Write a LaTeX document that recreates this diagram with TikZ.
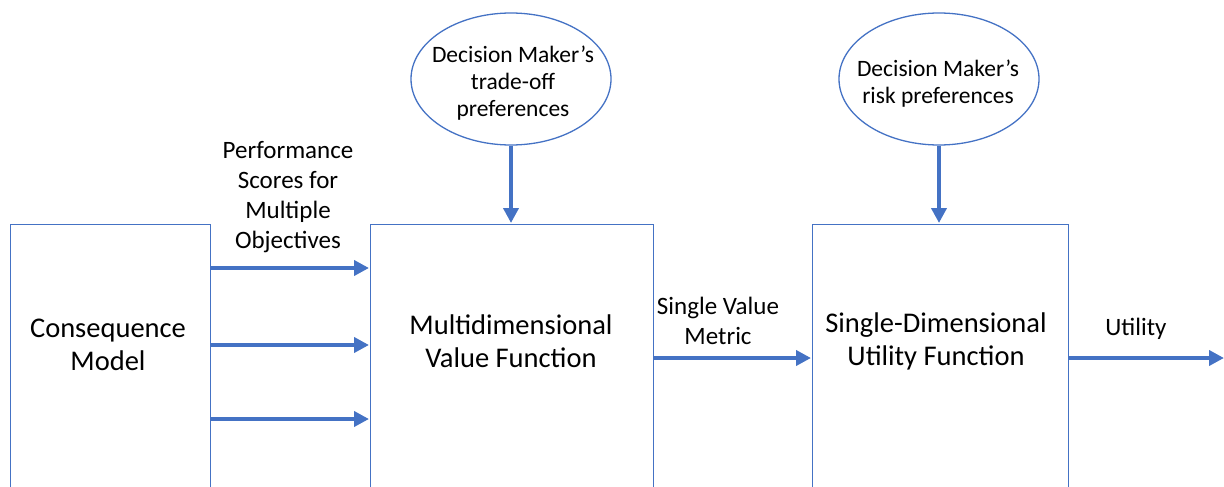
\documentclass[tikz,border=0pt]{standalone}
\usepackage{fontspec}
\setmainfont{Carlito}
\usetikzlibrary{arrows.meta,shapes.geometric}
\definecolor{obl}{HTML}{4472C4}
\tikzset{
  box/.style={draw=obl, line width=1.4pt, anchor=north west, inner sep=0pt},
  ell/.style={draw=obl, line width=1.3pt, ellipse, minimum width=200pt, minimum height=132pt, inner sep=0pt},
  elltext/.style={align=center, font=\fontsize{23.5}{27}\selectfont},
  big/.style={align=center, font=\fontsize{28.5}{33}\selectfont},
  lab/.style={align=center, font=\fontsize{25}{30}\selectfont},
  arr/.style={draw=obl, line width=4pt, -{Triangle[length=15pt,width=15pt]}, shorten >=1pt}
}
\begin{document}
\begin{tikzpicture}[x=1pt,y=-1pt]
\useasboundingbox (0,0) rectangle (1224,487);
\clip (0,0) rectangle (1224,487);
\node[box, minimum width=200pt, minimum height=300pt] (b1) at (10,224) {};
\node[box, minimum width=283pt, minimum height=300pt] (b2) at (370,224) {};
\node[box, minimum width=256pt, minimum height=300pt] (b3) at (812,224) {};
\node[big] (t1) at (108,345) {Consequence\\Model};
\node[big] (t2) at (511,341) {Multidimensional\\Value Function};
\node[big] (t3) at (936,341) {Single-Dimensional\\Utility Function};
\node[ell] (e1) at (511,79) {};
\node[ell] (e2) at (939,79) {};
\node[elltext] (e1t) at (513,83) {Decision Maker’s\\trade-off\\preferences};
\node[elltext] (e2t) at (938,84) {Decision Maker’s\\risk preferences};
\node[lab] (l1) at (288,197) {Performance\\Scores for\\Multiple\\Objectives};
\node[lab] (l2) at (718,321) {Single Value\\Metric};
\node[lab] (l3) at (1136,329) {Utility};
\coordinate (out) at (1224,358);
\draw[arr] (e1.south) -- (e1.south |- b2.north);
\draw[arr] (e2.south) -- (e2.south |- b3.north);
\draw[arr] (b1.north east |- 0,268) -- (b2.north west |- 0,268);
\draw[arr] (b1.north east |- 0,345) -- (b2.north west |- 0,345);
\draw[arr] (b1.north east |- 0,419) -- (b2.north west |- 0,419);
\draw[arr] (b2.north east |- 0,358) -- (b3.north west |- 0,358);
\draw[arr, shorten >=0pt] (b3.north east |- 0,358) -- (out);
\end{tikzpicture}
\end{document}
